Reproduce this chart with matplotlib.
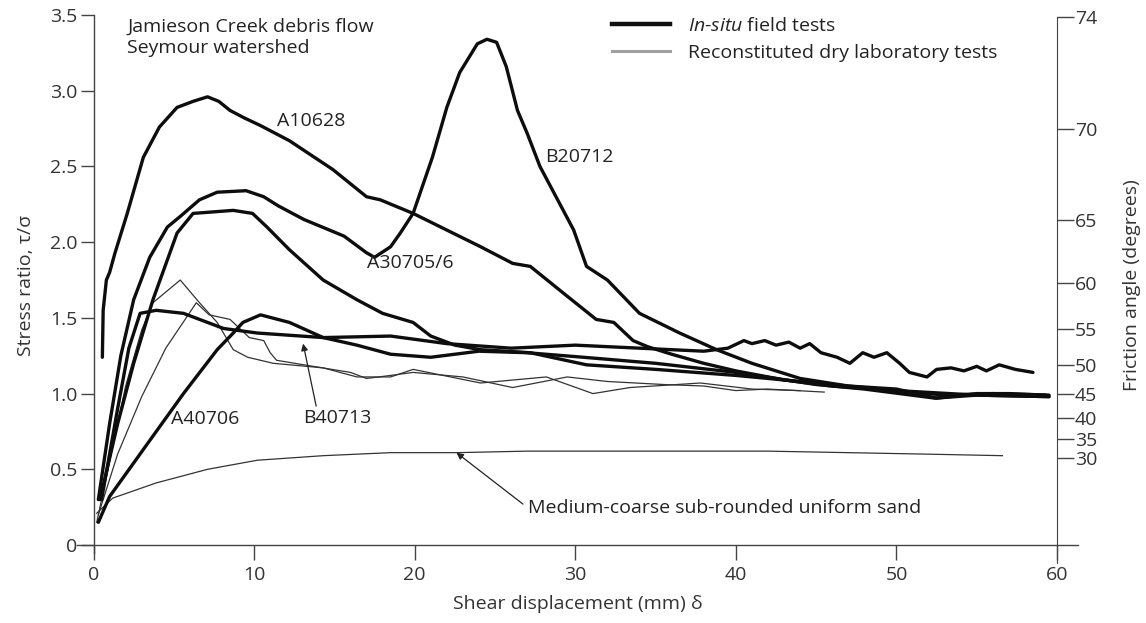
import numpy as np
import matplotlib
matplotlib.use("Agg")
import matplotlib.pyplot as plt
from matplotlib.lines import Line2D

plt.rcParams['font.family'] = ['Open Sans', 'DejaVu Sans']
plt.rcParams['mathtext.fontset'] = 'custom'
plt.rcParams['mathtext.it'] = 'Open Sans:italic'
plt.rcParams['mathtext.rm'] = 'Open Sans'

# ---- data ----
x_ticks = [0, 10, 20, 30, 40, 50, 60]
y_ticks = [0, 0.5, 1.0, 1.5, 2.0, 2.5, 3.0, 3.5]
y_ticklabels = ['0', '0.5', '1.0', '1.5', '2.0', '2.5', '3.0', '3.5']
angle_ticks = [30, 35, 40, 45, 50, 55, 60, 65, 70, 74]

# in-situ field tests (thick)
a10628_x = [0.55, 0.6, 0.8, 1.0, 1.34, 2.1, 3.1, 4.1, 5.2, 6.2, 7.1, 7.8, 8.5, 9.4, 10.4, 12.2,
            14.9, 17.0, 17.85, 19.9, 22.0, 24.1, 26.1, 27.2, 29.3, 31.3, 32.4, 33.6, 34.5, 36.0,
            38.0, 40.0, 43.0, 46.0, 50.0, 53.0, 56.0, 59.5]
a10628_y = [1.24, 1.55, 1.75, 1.80, 1.93, 2.19, 2.56, 2.76, 2.89, 2.93, 2.96, 2.93, 2.87, 2.82, 2.77, 2.67,
            2.48, 2.30, 2.28, 2.19, 2.08, 1.97, 1.86, 1.84, 1.66, 1.49, 1.47, 1.35, 1.31, 1.26,
            1.20, 1.15, 1.09, 1.05, 1.02, 0.99, 1.00, 0.99]

b20712_x = [0.3, 1.0, 1.7, 2.5, 3.5, 4.6, 5.4, 6.6, 7.7, 9.5, 10.6, 11.5, 13.1, 15.6, 17.0, 17.5, 18.5,
            19.1, 19.9, 21.1, 22.0, 22.8, 23.9, 24.5, 25.1, 25.7, 26.4, 27.0, 27.8, 28.9, 29.9,
            30.7, 32.0, 34.0, 36.5, 38.8, 41.0, 44.0, 47.0, 50.0, 52.5, 55.0, 57.0, 59.3]
b20712_y = [0.30, 0.80, 1.25, 1.62, 1.90, 2.10, 2.17, 2.28, 2.33, 2.34, 2.30, 2.24, 2.15, 2.04, 1.93, 1.90, 1.97,
            2.06, 2.19, 2.56, 2.89, 3.12, 3.31, 3.34, 3.32, 3.16, 2.87, 2.72, 2.50, 2.28, 2.08,
            1.84, 1.75, 1.53, 1.40, 1.29, 1.20, 1.10, 1.05, 1.03, 0.97, 1.00, 1.00, 0.99]

a30705_x = [0.4, 1.5, 2.5, 3.7, 5.2, 6.2, 8.7, 9.9, 10.8, 12.2, 14.3, 16.4, 18.0, 19.9, 21.0, 22.5,
            24.1, 27.2, 30.7, 35.0, 40.0, 45.0, 50.0, 55.0, 59.5]
a30705_y = [0.30, 0.80, 1.20, 1.62, 2.06, 2.19, 2.21, 2.19, 2.10, 1.95, 1.75, 1.62, 1.53, 1.47, 1.38, 1.32,
            1.29, 1.27, 1.19, 1.16, 1.12, 1.07, 1.02, 0.99, 0.98]

a40706_x = [0.3, 1.0, 3.5, 5.6, 7.7, 8.7, 9.3, 10.4, 12.2, 14.3, 16.4, 18.5, 21.0, 24.0, 27.0,
            30.5, 35.0, 40.0, 45.0, 48.0, 52.4, 55.0, 59.5]
a40706_y = [0.15, 0.32, 0.69, 1.00, 1.29, 1.40, 1.47, 1.52, 1.47, 1.37, 1.32, 1.26, 1.24, 1.28, 1.27,
            1.24, 1.20, 1.14, 1.06, 1.03, 0.97, 0.99, 0.98]

b40713_x = [0.5, 1.5, 2.2, 2.9, 3.9, 5.6, 7.1, 8.1, 10.2, 14.3, 18.5, 22.0, 26.0, 30.0, 34.0, 38.0,
            39.5, 40.5, 41.0, 41.8, 42.5, 43.3, 44.0, 44.6, 45.3, 46.3, 47.1, 47.9, 48.6, 49.4,
            50.2, 50.8, 51.9, 52.5, 53.4, 54.2, 55.0, 55.6, 56.4, 57.4, 58.5]
b40713_y = [0.30, 0.90, 1.30, 1.53, 1.55, 1.53, 1.47, 1.43, 1.40, 1.37, 1.38, 1.33, 1.30, 1.32, 1.30, 1.28,
            1.30, 1.35, 1.33, 1.35, 1.32, 1.34, 1.30, 1.33, 1.27, 1.24, 1.20, 1.27, 1.24, 1.27,
            1.20, 1.14, 1.11, 1.16, 1.17, 1.15, 1.18, 1.15, 1.19, 1.16, 1.14]

# reconstituted dry laboratory tests (thin)
lab1_x = [0.2, 1.0, 2.0, 3.0, 3.7, 5.4, 6.6, 7.7, 8.7, 9.6, 11.2, 14.3, 16.4, 18.5, 19.9, 24.1,
          28.2, 31.1, 33.4, 37.8, 41.0, 44.0]
lab1_y = [0.15, 0.55, 1.05, 1.42, 1.60, 1.75, 1.60, 1.47, 1.29, 1.24, 1.20, 1.17, 1.11, 1.11, 1.16, 1.07,
          1.11, 1.00, 1.04, 1.07, 1.03, 1.02]

lab2_x = [0.3, 1.5, 3.0, 4.5, 6.4, 7.2, 8.5, 9.7, 10.6, 11.0, 11.4, 13.1, 16.0, 17.0, 18.5, 19.9,
          23.0, 26.1, 29.5, 32.0, 35.5, 38.0, 40.0, 42.0, 45.5]
lab2_y = [0.20, 0.60, 0.98, 1.30, 1.60, 1.52, 1.49, 1.37, 1.35, 1.27, 1.22, 1.19, 1.14, 1.10, 1.12, 1.14,
          1.11, 1.04, 1.11, 1.08, 1.06, 1.05, 1.02, 1.03, 1.01]

sand_x = [0.2, 1.2, 3.9, 7.1, 10.2, 14.3, 18.5, 22.6, 27.0, 32.0, 37.0, 42.0, 47.0, 52.0, 56.6]
sand_y = [0.21, 0.31, 0.41, 0.50, 0.56, 0.59, 0.61, 0.61, 0.62, 0.62, 0.62, 0.62, 0.61, 0.60, 0.59]

field_tests = [(a10628_x, a10628_y), (b20712_x, b20712_y), (a30705_x, a30705_y),
               (a40706_x, a40706_y), (b40713_x, b40713_y)]
lab_tests = [(lab1_x, lab1_y), (lab2_x, lab2_y), (sand_x, sand_y)]

grey = '#444444'
fs = 14

fig = plt.figure(figsize=(11.46, 6.23), dpi=100)
ax = fig.add_axes([0.0676, 0.096, 0.873, 0.892])

for xs, ys in lab_tests:
    ax.plot(xs, ys, color='#333333', lw=0.9, solid_joinstyle='round')
for xs, ys in field_tests:
    ax.plot(xs, ys, color='#0d0d0d', lw=2.4, solid_joinstyle='round', solid_capstyle='round')

ax.set_xlim(-1.0, 61.3)
ax.set_ylim(-0.12, 3.55)

ax.spines['top'].set_visible(False)
ax.spines['right'].set_visible(False)
ax.spines['left'].set_position(('data', 0))
ax.spines['left'].set_bounds(-0.05, 3.5)
ax.spines['bottom'].set_position(('data', 0))
for s in ax.spines.values():
    s.set_color(grey)
    s.set_linewidth(1.0)

ax.set_xticks(x_ticks)
ax.set_yticks(y_ticks)
ax.set_yticklabels(y_ticklabels)
ax.tick_params(axis='y', direction='out', length=9.5, width=1, color=grey,
               labelsize=fs, labelcolor='#333333', pad=2)
ax.tick_params(axis='x', direction='out', length=11, width=1, color=grey,
               labelsize=fs, labelcolor='#333333', pad=4)

ax.set_ylabel('Stress ratio, τ/σ', fontsize=fs, color='#333333', labelpad=11)
ax.set_xlabel('Shear displacement (mm) δ', fontsize=fs, color='#333333', labelpad=8)

# friction angle axis: tan(phi) = tau/sigma
ax2 = ax.twinx()
ax2.set_ylim(ax.get_ylim())
for k in ['top', 'left', 'bottom']:
    ax2.spines[k].set_visible(False)
ax2.spines['right'].set_position(('data', 60))
ax2.spines['right'].set_bounds(-0.12, np.tan(np.radians(74)))
ax2.spines['right'].set_color(grey)
ax2.set_yticks(np.tan(np.radians(angle_ticks)))
ax2.set_yticklabels([str(a) for a in angle_ticks])
ax2.tick_params(axis='y', direction='out', length=12, width=1, color=grey,
                labelsize=fs, labelcolor='#333333', pad=1)
ax2.set_ylabel('Friction angle (degrees)', fontsize=fs, color='#333333', labelpad=18)

# labels
txt = dict(fontsize=fs, color='#222222', va='center')
ax.text(2.1, 3.42, 'Jamieson Creek debris flow', **txt)
ax.text(2.1, 3.28, 'Seymour watershed', **txt)
ax.text(11.4, 2.80, 'A10628', **txt)
ax.text(28.1, 2.56, 'B20712', **txt)
ax.text(17.0, 1.86, 'A30705/6', **txt)
ax.text(4.8, 0.83, 'A40706', **txt)
ax.annotate('B40713', xy=(13.05, 1.33), xytext=(13.05, 0.84), textcoords='data',
            fontsize=fs, color='#222222', va='center', ha='left',
            arrowprops=dict(arrowstyle='-|>', color='#222222', lw=0.9,
                            shrinkA=0, shrinkB=0, mutation_scale=10,
                            relpos=(0.2, 1.0)))
ax.annotate('Medium-coarse sub-rounded uniform sand', xy=(22.6, 0.61), xytext=(27.05, 0.245),
            fontsize=fs, color='#222222', va='center', ha='left',
            arrowprops=dict(arrowstyle='-|>', color='#222222', lw=0.9,
                            shrinkA=2, shrinkB=0, mutation_scale=10,
                            relpos=(0.0, 0.5)))

handles = [Line2D([], [], color='#111111', lw=3.2),
           Line2D([], [], color='#a0a0a0', lw=2.2)]
labels = [r'$\mathit{In}$-$\mathit{situ}$ field tests', 'Reconstituted dry laboratory tests']
fig.legend(handles, labels, loc='upper left', bbox_to_anchor=(612 / 1146, 1 - 17 / 623),
           frameon=False, fontsize=fs, handlelength=3.0, handletextpad=0.9,
           labelspacing=0.45, borderpad=0, borderaxespad=0, labelcolor='#222222')

fig.savefig('out.png', dpi=100)
